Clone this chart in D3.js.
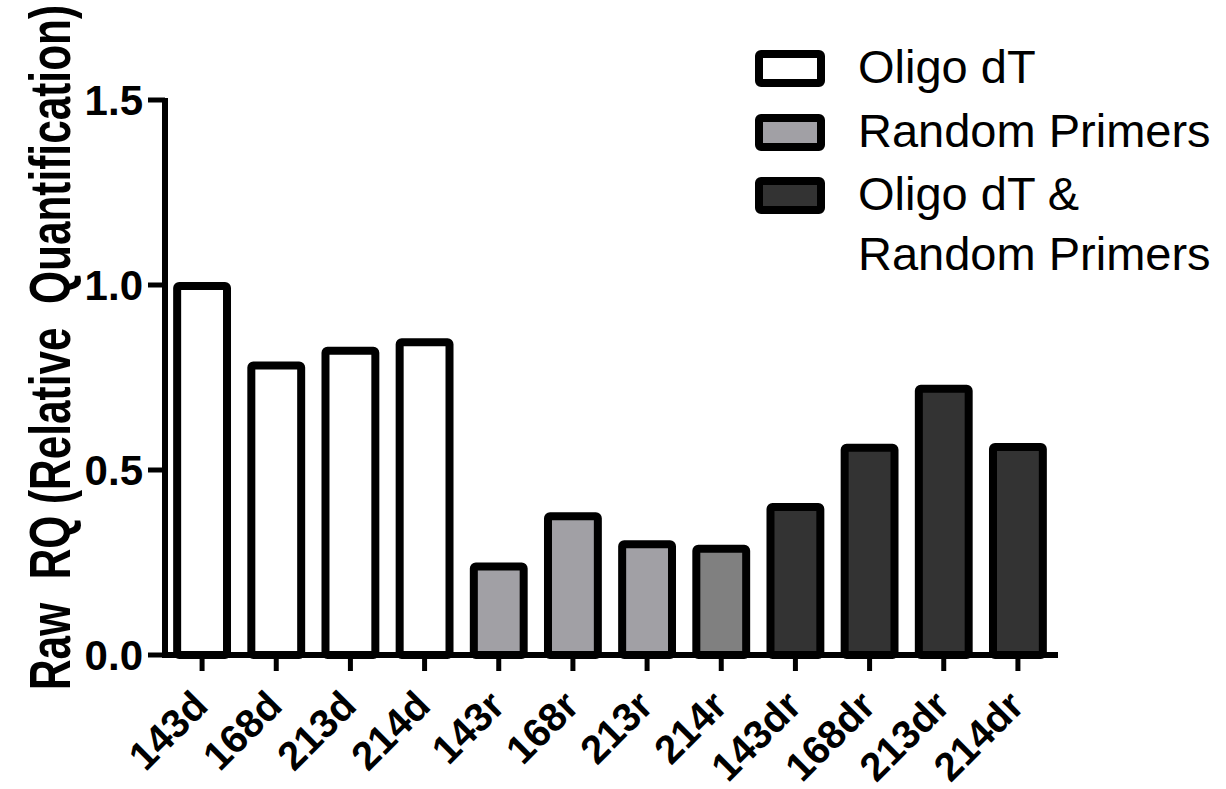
<!DOCTYPE html>
<html>
<head>
<meta charset="utf-8">
<script src="https://cdn.jsdelivr.net/npm/d3@7"></script>
<style>
  body { margin: 0; background: #fff; }
  svg { display: block; font-family: "Liberation Sans", Arial, sans-serif; }
</style>
</head>
<body>
<svg id="chart" width="1226" height="789"></svg>
<script>
var categories = ["143d", "168d", "213d", "214d", "143r", "168r", "213r", "214r", "143dr", "168dr", "213dr", "214dr"];
var values = [1.0, 0.785, 0.825, 0.848, 0.242, 0.378, 0.302, 0.29, 0.403, 0.563, 0.722, 0.565];
var fills = ["#ffffff", "#ffffff", "#ffffff", "#ffffff", "#a1a0a5", "#a1a0a5", "#a1a0a5", "#808080", "#333333", "#333333", "#333333", "#333333"];
var yTicks = [0, 0.5, 1.0, 1.5];
var legendLabels = [["Oligo dT"], ["Random Primers"], ["Oligo dT &", "Random Primers"]];
var legendFills = ["#ffffff", "#a1a0a5", "#333333"];

var svg = d3.select("#chart");
var plotLeft = 165, plotRight = 1055, plotTop = 100, plotBottom = 655;

var x = d3.scaleBand().domain(categories).range([plotLeft, plotRight]).paddingInner(0.22).paddingOuter(0.11);
var y = d3.scaleLinear().domain([0, 1.5]).range([plotBottom, plotTop]);

// bars
var sw = 8;
svg.selectAll("rect.bar")
    .data(categories)
    .enter().append("rect")
    .attr("class", "bar")
    .attr("x", function (d) { return x(d) + sw / 2; })
    .attr("width", x.bandwidth() - sw)
    .attr("y", function (d, i) { return y(values[i]) + 1; })
    .attr("height", function (d, i) { return plotBottom - y(values[i]) - 1; })
    .attr("rx", 2)
    .style("fill", function (d, i) { return fills[i]; })
    .style("stroke", "#000")
    .style("stroke-width", sw);

// y axis
var yAxis = svg.append("g").attr("transform", "translate(" + plotLeft + ",0)");
yAxis.append("line").attr("x1", 0).attr("x2", 0).attr("y1", plotTop - 2).attr("y2", plotBottom + 3)
    .style("stroke", "#000").style("stroke-width", 6);
yAxis.selectAll("line.tick").data(yTicks).enter().append("line")
    .attr("x1", -17).attr("x2", 0)
    .attr("y1", function (d) { return y(d); }).attr("y2", function (d) { return y(d); })
    .style("stroke", "#000").style("stroke-width", 5);
yAxis.selectAll("text").data(yTicks).enter().append("text")
    .attr("x", -22).attr("y", function (d) { return y(d) + 15; })
    .attr("text-anchor", "end")
    .style("font-size", "42px").style("font-weight", "bold")
    .text(function (d) { return d3.format(".1f")(d); });

// x axis
var xAxis = svg.append("g").attr("transform", "translate(0," + plotBottom + ")");
xAxis.append("line").attr("x1", plotLeft - 3).attr("x2", 1058).attr("y1", 0).attr("y2", 0)
    .style("stroke", "#000").style("stroke-width", 6);
xAxis.selectAll("line.tick").data(categories).enter().append("line")
    .attr("x1", function (d) { return x(d) + x.bandwidth() / 2; })
    .attr("x2", function (d) { return x(d) + x.bandwidth() / 2; })
    .attr("y1", 0).attr("y2", 16)
    .style("stroke", "#000").style("stroke-width", 5);
xAxis.selectAll("text").data(categories).enter().append("text")
    .attr("transform", function (d) {
      return "translate(" + (x(d) + x.bandwidth() / 2 + 8) + ",53) rotate(-45)";
    })
    .attr("text-anchor", "end")
    .style("font-size", "40px").style("font-weight", "bold")
    .text(function (d) { return d; });

// y title
svg.append("text")
    .attr("transform", "translate(70,690) rotate(-90)")
    .attr("textLength", 685).attr("lengthAdjust", "spacingAndGlyphs")
    .style("white-space", "pre")
    .style("font-size", "58px").style("font-weight", "bold")
    .text("Raw  RQ (Relative  Quantification)");

// legend
var legend = svg.append("g");
var rowY = [50, 114, 177];
legendLabels.forEach(function (lines, i) {
  legend.append("rect")
      .attr("x", 759).attr("y", rowY[i] + 4).attr("width", 62).attr("height", 29).attr("rx", 2)
      .style("fill", legendFills[i]).style("stroke", "#000").style("stroke-width", sw);
  lines.forEach(function (t, j) {
    legend.append("text")
        .attr("x", 858).attr("y", rowY[i] + 33 + j * 60)
        .style("font-size", "47px")
        .text(t);
  });
});
</script>
</body>
</html>
